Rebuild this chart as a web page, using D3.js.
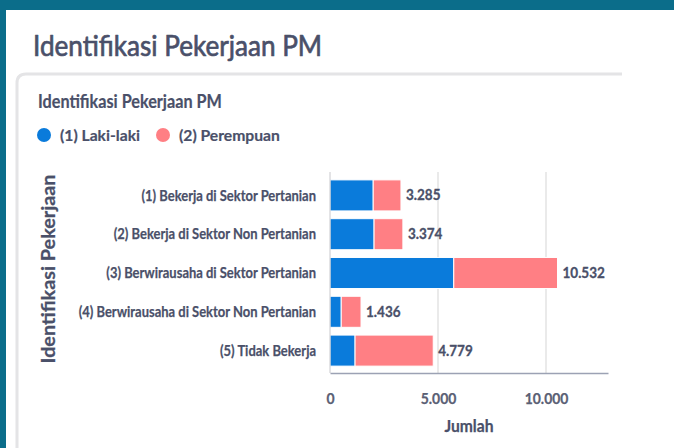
<!DOCTYPE html>
<html>
<head>
<meta charset="UTF-8">
<title>Identifikasi Pekerjaan PM</title>
<script src="https://cdn.jsdelivr.net/npm/d3@7"></script>
<style>
  body { margin: 0; background: #fff; }
  text { font-family: Lato, "Open Sans", sans-serif; }
</style>
</head>
<body>
<script>
// data
var categories = [
  "(1) Bekerja di Sektor Pertanian",
  "(2) Bekerja di Sektor Non Pertanian",
  "(3) Berwirausaha di Sektor Pertanian",
  "(4) Berwirausaha di Sektor Non Pertanian",
  "(5) Tidak Bekerja"
];
var seriesNames = ["(1) Laki-laki", "(2) Perempuan"];
var laki = [2000, 2040, 5730, 520, 1160];
var perempuan = [1285, 1334, 4802, 916, 3619];
var tickValues = [0, 5000, 10000];

var W = 674, H = 448;
var textColor = "#4a5069";
var colors = ["#0a7bdb", "#ff7f84"];

var idFmt = d3.formatLocale({decimal: ",", thousands: ".", grouping: [3], currency: ["", ""]});
var fmt = idFmt.format(",d");

var svg = d3.select("body").append("svg")
  .attr("width", W).attr("height", H);

// squeeze text horizontally, the source looks condensed
function squeeze(sel, k) {
  sel.each(function() {
    var len = this.getComputedTextLength();
    d3.select(this).attr("textLength", len * k).attr("lengthAdjust", "spacingAndGlyphs");
  });
}
// a little extra weight, the source text is heavy
function heavy(sel, w) {
  sel.attr("stroke", function() { return d3.select(this).attr("fill"); })
    .attr("stroke-width", w).attr("stroke-linejoin", "round");
}

// frame
svg.append("rect").attr("width", W).attr("height", H).attr("fill", "#0b6d8a");
svg.append("rect").attr("x", 6).attr("y", 10).attr("width", W - 6).attr("height", H - 10).attr("fill", "#fff");

// card outline
svg.append("path")
  .attr("d", "M17,448 L17,83 Q17,74 26,74 L622,74")
  .attr("fill", "none").attr("stroke", "#e4e4e6").attr("stroke-width", 3);

svg.append("text").attr("x", 33).attr("y", 56)
  .attr("font-size", 29).attr("fill", textColor)
  .text("Identifikasi Pekerjaan PM").call(squeeze, 0.9).call(heavy, 0.7);

svg.append("text").attr("x", 38).attr("y", 108)
  .attr("font-size", 18).attr("font-weight", 700).attr("fill", textColor)
  .text("Identifikasi Pekerjaan PM").call(squeeze, 0.9).call(heavy, 0.2);

// legend
var legX = [44, 163];
seriesNames.forEach(function(n, i) {
  var g = svg.append("g").attr("transform", "translate(" + legX[i] + ",135)");
  g.append("circle").attr("r", 7).attr("fill", colors[i]);
  g.append("text").attr("x", 16).attr("y", 6)
    .attr("font-size", 16).attr("font-weight", 700).attr("fill", textColor)
    .text(n).call(squeeze, 0.98).call(heavy, 0.2);
});

var x = d3.scaleLinear().domain([0, 12870]).range([330, 608]);
var y = d3.scaleBand().domain(categories).range([176, 370]).paddingInner(0.2).paddingOuter(0.1);

// grid
svg.append("g").selectAll("line").data(tickValues.slice(1)).enter().append("line")
  .attr("x1", function(d) { return x(d); }).attr("x2", function(d) { return x(d); })
  .attr("y1", 172).attr("y2", 373)
  .attr("stroke", "#dcdcdc").attr("stroke-width", 1.2);

// bars
var rows = categories.map(function(c, i) { return {cat: c, laki: laki[i], perempuan: perempuan[i]}; });
var stack = d3.stack().keys(["laki", "perempuan"])(rows);

svg.append("g").selectAll("g").data(stack).enter().append("g")
  .attr("fill", function(d, i) { return colors[i]; })
  .selectAll("rect").data(function(d) { return d; }).enter().append("rect")
  .attr("x", function(d) { return x(d[0]); })
  .attr("y", function(d) { return y(d.data.cat); })
  .attr("width", function(d) { return x(d[1]) - x(d[0]); })
  .attr("height", y.bandwidth())
  .attr("stroke", "#fff").attr("stroke-width", 1);

// totals
svg.append("g").selectAll("text").data(rows).enter().append("text")
  .attr("x", function(d) { return x(d.laki + d.perempuan) + 5; })
  .attr("y", function(d) { return y(d.cat) + y.bandwidth() / 2 + 5; })
  .attr("font-size", 15).attr("font-weight", 700).attr("fill", textColor)
  .text(function(d) { return fmt(d.laki + d.perempuan); })
  .call(squeeze, 0.9).call(heavy, 0.3);

// axes
var yAxis = svg.append("g").attr("transform", "translate(330,0)")
  .call(d3.axisLeft(y).tickSize(0).tickPadding(14));
yAxis.select(".domain").attr("stroke", "#c8c8cc").attr("d", "M0,172V373");
yAxis.selectAll("text").attr("font-size", 16).attr("font-weight", 700)
  .attr("fill", textColor).attr("font-family", "Lato").call(squeeze, 0.81).call(heavy, 0.25);

var xAxis = svg.append("g").attr("transform", "translate(0,373)")
  .call(d3.axisBottom(x).tickValues(tickValues).tickFormat(fmt).tickSize(0).tickPadding(20));
xAxis.select(".domain").attr("stroke", "#9ca2b4").attr("stroke-width", 1.5);
xAxis.selectAll("text").attr("font-size", 15).attr("font-weight", 700)
  .attr("fill", "#5a6074").attr("font-family", "Lato").call(squeeze, 0.93).call(heavy, 0.25);

svg.append("text").attr("x", 469).attr("y", 432).attr("text-anchor", "middle")
  .attr("font-size", 17).attr("font-weight", 700).attr("fill", textColor)
  .text("Jumlah").call(squeeze, 0.92).call(heavy, 0.25);

svg.append("text").attr("transform", "translate(55,269) rotate(-90)").attr("text-anchor", "middle")
  .attr("font-size", 18).attr("font-weight", 700).attr("fill", textColor)
  .text("Identifikasi Pekerjaan").call(squeeze, 1.1).call(heavy, 0.25);
</script>
</body>
</html>
